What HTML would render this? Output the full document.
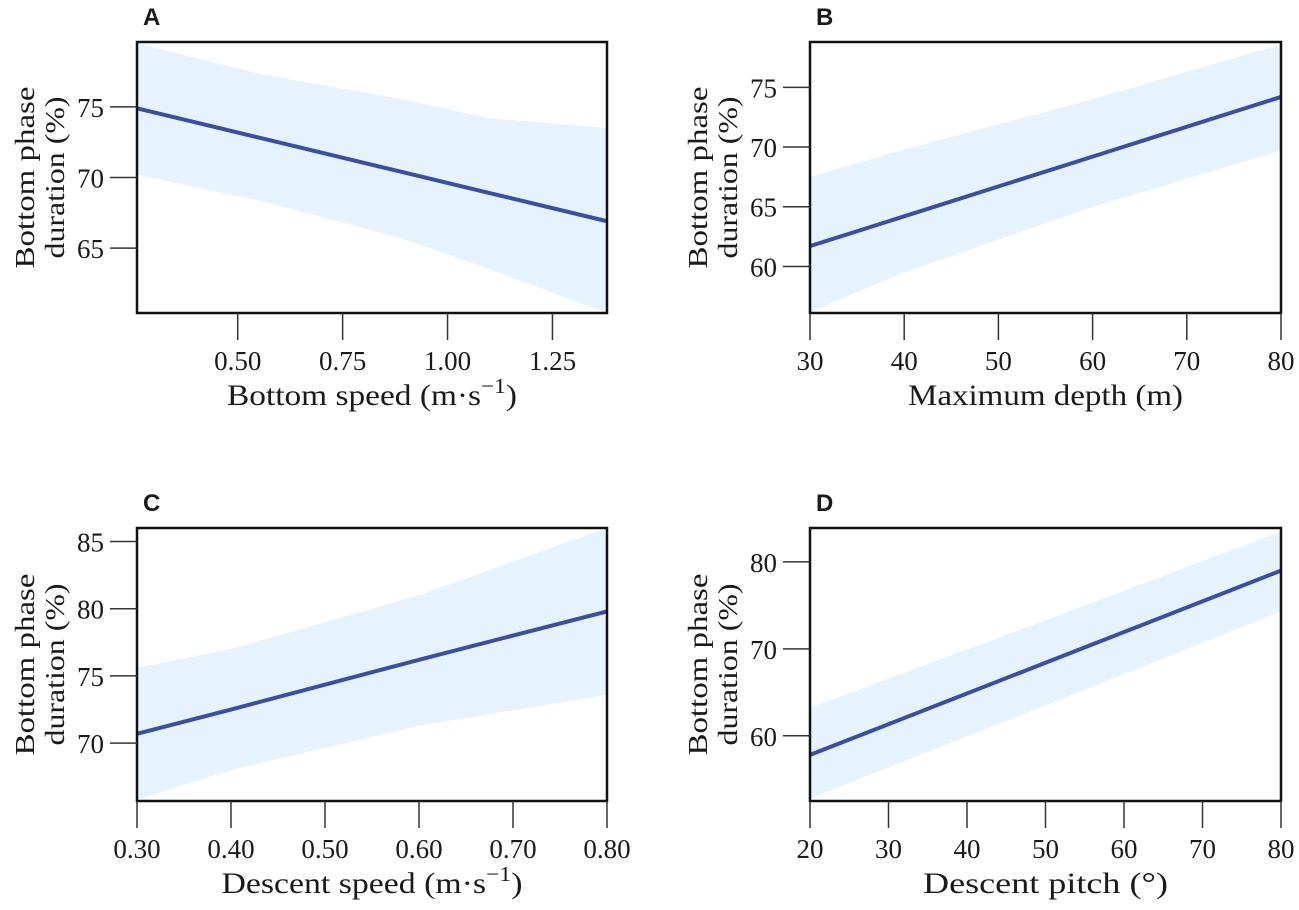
<!DOCTYPE html>
<html><head><meta charset="utf-8"><style>
html,body{margin:0;padding:0;background:#fff}
svg{display:block}
text{font-family:"Liberation Serif",serif;fill:#1a1a1a}
.lab{font-family:"Liberation Sans",sans-serif;font-weight:bold;font-size:24px}
</style></head><body>
<svg id="fig" width="1299" height="910" viewBox="0 0 1299 910"></svg>
<script>
// Panel A
const aXTicks=[0.50,0.75,1.00,1.25];
const aYTicks=[65,70,75];
const aX=[0.26,0.56,0.9,1.1,1.38];
const aFit=[74.9,72.76,70.33,68.9,66.9];
const aUpper=[79.5,77.3,75.5,74.2,73.5];
const aLower=[70.2,68.3,65.6,63.5,60.4];
// Panel B
const bXTicks=[30,40,50,60,70,80];
const bYTicks=[60,65,70,75];
const bX=[30,40,60,80];
const bFit=[61.7,64.2,69.2,74.2];
const bUpper=[67.5,69.8,74,78.6];
const bLower=[56.2,59.5,65,69.7];
// Panel C
const cXTicks=[0.30,0.40,0.50,0.60,0.70,0.80];
const cYTicks=[70,75,80,85];
const cX=[0.3,0.4,0.6,0.8];
const cFit=[70.7,72.5,76.2,79.8];
const cUpper=[75.6,77,81,86];
const cLower=[65.8,68,71.3,73.6];
// Panel D
const dXTicks=[20,30,40,50,60,70,80];
const dYTicks=[60,70,80];
const dX=[20,50,80];
const dFit=[57.8,68.4,79];
const dUpper=[63.2,73.3,83.5];
const dLower=[52.8,63.5,74.3];

const NS='http://www.w3.org/2000/svg';
const svg=document.getElementById('fig');
function mk(tag,attrs,parent){const e=document.createElementNS(NS,tag);for(const k in attrs)e.setAttribute(k,attrs[k]);(parent||svg).appendChild(e);return e;}

function panel(o){
  const g=mk('g',{});
  
  
  const sx=v=>o.x0+(v-o.xmin)/(o.xmax-o.xmin)*(o.x1-o.x0);
  const sy=v=>o.y1-(v-o.ymin)/(o.ymax-o.ymin)*(o.y1-o.y0);
  let d='';
  o.xs.forEach((v,i)=>{d+=(i?'L':'M')+sx(v)+','+sy(o.up[i]);});
  for(let i=o.xs.length-1;i>=0;i--)d+='L'+sx(o.xs[i])+','+sy(o.lo[i]);
  const band=mk('path',{d:d+'Z',fill:'#e6f3fc'},g);
  
  
  let ld='';
  o.xs.forEach((v,i)=>{ld+=(i?'L':'M')+sx(v)+','+sy(o.fit[i]);});
  const line=mk('path',{d:ld,fill:'none',stroke:'#3a4fa3','stroke-width':4},g);
  
  
  const box=mk('rect',{x:o.x0,y:o.y0,width:o.x1-o.x0,height:o.y1-o.y0,fill:'none',stroke:'#111','stroke-width':2.5},g);
  
  
  o.xt.forEach(v=>{
    const t=mk('line',{x1:sx(v),x2:sx(v),y1:o.y1,y2:o.y1+27,stroke:'#333','stroke-width':1.5},g);
    
    
    const tl=mk('text',{x:sx(v),y:o.y1+57,'text-anchor':'middle','font-size':27},g);
    tl.textContent=o.fmt(v);
    
    
  });
  o.yt.forEach(v=>{
    const t=mk('line',{x1:o.x0-27,x2:o.x0,y1:sy(v),y2:sy(v),stroke:'#333','stroke-width':1.5},g);
    
    
    const tl=mk('text',{x:o.x0-33,y:sy(v)+10,'text-anchor':'end','font-size':27},g);
    tl.textContent=v;
    
    
  });
  const xt=mk('text',{x:(o.x0+o.x1)/2,y:o.y1+92,'text-anchor':'middle','font-size':30,textLength:o.xlen,lengthAdjust:'spacingAndGlyphs'},g);
  xt.innerHTML=o.xtitle;
  
  
  const cy=(o.y0+o.y1)/2;
  const yt=mk('g',{transform:`translate(${o.x0-103},${cy}) rotate(-90)`},g);
  
  
  const s1=mk('text',{x:0,y:0,'text-anchor':'middle','font-size':27,textLength:182,lengthAdjust:'spacingAndGlyphs'},yt);s1.textContent='Bottom phase';
  const s2=mk('text',{x:0,y:30,'text-anchor':'middle','font-size':27,textLength:162,lengthAdjust:'spacingAndGlyphs'},yt);s2.textContent='duration (%)';
  const pl=mk('text',{x:o.x0+6,y:o.y0-17,class:'lab'},g);
  pl.textContent=o.id;
  
  
}
const f2=v=>v.toFixed(2);
const f0=v=>String(v);
panel({id:'A',x0:137,x1:607,y0:42,y1:313,xmin:0.26,xmax:1.38,ymin:60.4,ymax:79.6,xs:aX,fit:aFit,up:aUpper,lo:aLower,xt:aXTicks,yt:aYTicks,fmt:f2,xlen:290,xtitle:'Bottom speed (m·s<tspan dy="-12" font-size="21">−1</tspan><tspan dy="12">)</tspan>'});
panel({id:'B',x0:810,x1:1281,y0:42,y1:313,xmin:30,xmax:80,ymin:56.1,ymax:78.8,xs:bX,fit:bFit,up:bUpper,lo:bLower,xt:bXTicks,yt:bYTicks,fmt:f0,xlen:275,xtitle:'Maximum depth (m)'});
panel({id:'C',x0:137,x1:607,y0:528,y1:801,xmin:0.3,xmax:0.8,ymin:65.7,ymax:86,xs:cX,fit:cFit,up:cUpper,lo:cLower,xt:cXTicks,yt:cYTicks,fmt:f2,xlen:301,xtitle:'Descent speed (m·s<tspan dy="-12" font-size="21">−1</tspan><tspan dy="12">)</tspan>'});
panel({id:'D',x0:810,x1:1281,y0:528,y1:801,xmin:20,xmax:80,ymin:52.5,ymax:83.9,xs:dX,fit:dFit,up:dUpper,lo:dLower,xt:dXTicks,yt:dYTicks,fmt:f0,xlen:245,xtitle:'Descent pitch (°)'});
</script>
</body></html>
